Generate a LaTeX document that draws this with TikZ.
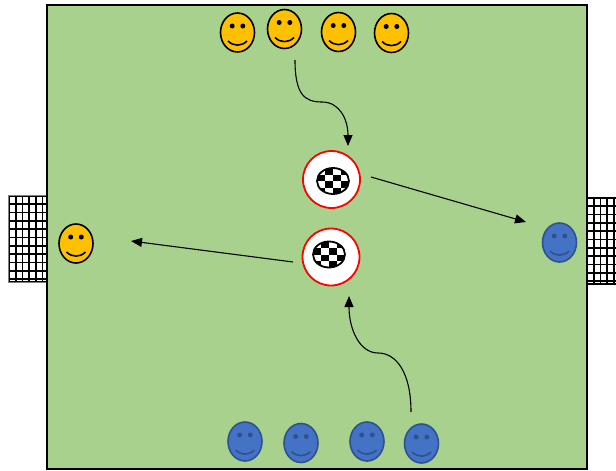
\documentclass[tikz,border=0pt]{standalone}
\usepackage{xcolor}
\usepackage{tikz}
\usetikzlibrary{shapes.geometric, arrows.meta, positioning}

\definecolor{fieldgreen}{HTML}{A9D18E}
\definecolor{keeperyellow}{HTML}{FFC000}
\definecolor{teamblue}{HTML}{4472C4}
\definecolor{blueedge}{HTML}{2F528F}

% name, x, y, fill, edge
\newcommand{\smiley}[5]{%
    \node[player, fill=#4, draw=#5] (#1) at (#2,#3) {};
    \fill[#5] ([shift={(-5.3,-6.5)}]#1.center) circle (2.5);
    \fill[#5] ([shift={(5.3,-6.5)}]#1.center) circle (2.5);
    \draw[#5, line width=1.6] ([shift={(-9.5,8.5)}]#1.center)
        .. controls ([shift={(-4,14)}]#1.center) and ([shift={(4,14)}]#1.center)
        .. ([shift={(9.5,8.5)}]#1.center);
}

% name, x, y, ball offset dx, dy
\newcommand{\ballspot}[5]{%
    \node[ballring] (#1) at (#2,#3) {};
    \coordinate (#1c) at ([shift={(#4,#5)}]#1.center);
    \begin{scope}
        \clip (#1c) ellipse (16 and 13);
        \fill[white] (#1c) ellipse (16 and 13);
        \foreach \i in {0,...,3}
            \foreach \j in {0,...,3} {
                \pgfmathtruncatemacro\odd{mod(\i+\j,2)}
                \ifnum\odd=1
                    \fill ([shift={({-16+8*\i},{-13+6.5*\j})}]#1c) rectangle ++(8,6.5);
                \fi
            }
    \end{scope}
    \draw[line width=1.8] (#1c) ellipse (16 and 13);
}

\begin{document}
\begin{tikzpicture}[x=1pt, y=-1pt,
    player/.style={ellipse, minimum width=34pt, minimum height=39pt, inner sep=0pt, line width=1.6},
    ballring/.style={circle, minimum size=57pt, inner sep=0pt, draw=red, fill=white, line width=1.8},
    net/.style={line width=1.7},
    pass/.style={-{Triangle[length=11pt, width=9pt]}, line width=1.1}]
    \useasboundingbox (0,0) rectangle (616,471);

    % goals
    \fill[white] (8,195) rectangle (46,282);
    \foreach \k in {0,...,5}
        \draw[net] (9+6.7*\k,195) -- (9+6.7*\k,282);
    \foreach \k in {0,...,10}
        \draw[net] (8,196+8.3*\k) -- (46,196+8.3*\k);
    \draw[net] (8,282) -- (46,282);
    \draw[gray, line width=1] (8,195) rectangle (46,282);
    \fill[white] (587,197) rectangle (616,284);
    \foreach \k in {0,...,4}
        \draw[net] (587+6.7*\k,197) -- (587+6.7*\k,284);
    \foreach \k in {0,...,10}
        \draw[net] (587,198+8.3*\k) -- (616,198+8.3*\k);
    \draw[net] (587,284) -- (616,284);

    % field
    \draw[fill=fieldgreen, line width=2] (47,5) rectangle (587,469);

    \foreach \n/\x/\y in {y1/237.5/32.5, y2/284.5/29, y3/338.5/32, y4/391.5/33, yk/76/243.5}
        \smiley{\n}{\x}{\y}{keeperyellow}{black};
    \foreach \n/\x/\y in {b1/245/441.5, b2/301/443, b3/367/441.5, b4/421.5/443.5, bk/559.5/242.5}
        \smiley{\n}{\x}{\y}{teamblue}{blueedge};

    \ballspot{ball1}{331.5}{179.5}{1.5}{1.5}
    \ballspot{ball2}{331}{257}{-2}{-2.5}

    \coordinate (s1) at (295,60);
    \coordinate (e1) at (348,146);
    \coordinate (s2) at (371,177);
    \coordinate (e2) at (526,222);
    \coordinate (s3) at (293,262);
    \coordinate (e3) at (131,241);
    \coordinate (s4) at (411,412);
    \coordinate (e4) at (349,296);

    \draw[pass] (s1) .. controls (295,95) and (305,102) .. (322,102)
        .. controls (340,102) and (348,120) .. (e1);
    \draw[pass] (s2) -- (e2);
    \draw[pass] (s3) -- (e3);
    \draw[pass] (s4) .. controls (411,372) and (396,353) .. (378,353)
        .. controls (360,353) and (349,330) .. (e4);
\end{tikzpicture}
\end{document}
